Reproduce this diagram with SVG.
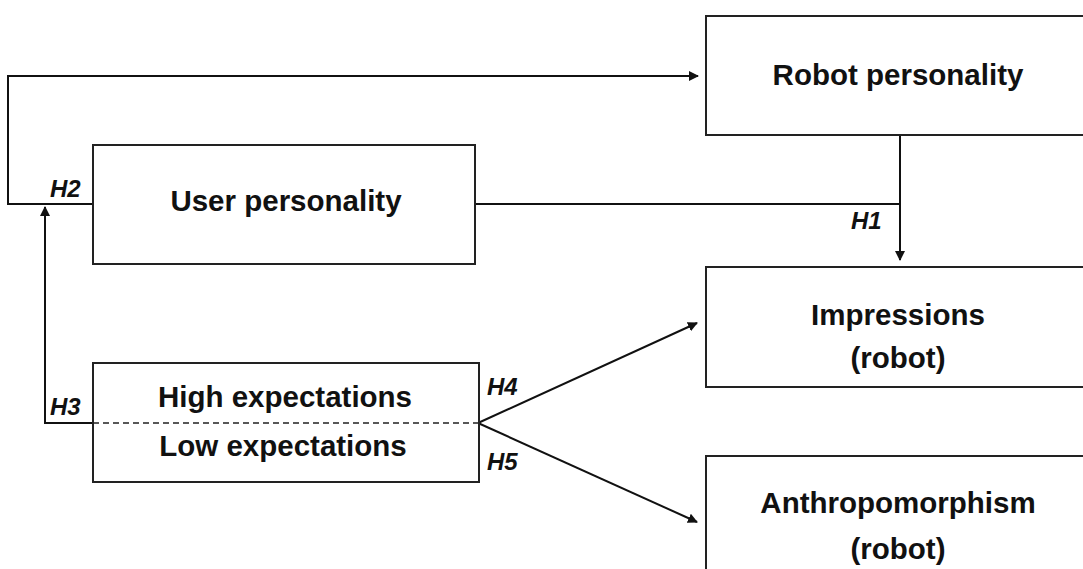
<svg xmlns="http://www.w3.org/2000/svg" width="1083" height="569" viewBox="0 0 1083 569">
<defs>
<marker id="arr" viewBox="0 0 10 10" refX="9" refY="5" markerWidth="5" markerHeight="5" orient="auto" markerUnits="strokeWidth">
<path d="M0,0 L10,5 L0,10 z" fill="#111"/>
</marker>
<style>
.box{fill:#fff;stroke:#222;stroke-width:2}
.t{font-family:"Liberation Sans",Arial,sans-serif;font-weight:bold;font-size:29.5px;fill:#111;text-anchor:middle}
.h{font-family:"Liberation Sans",Arial,sans-serif;font-weight:bold;font-style:italic;font-size:24px;fill:#111}
.c{fill:none;stroke:#111;stroke-width:2}
</style>
</defs>
<rect width="1083" height="569" fill="#fff"/>
<g id="connectors">
<path class="c" d="M93,204 H8 V76 H698" marker-end="url(#arr)"/>
<path class="c" d="M475,204 H900"/>
<path class="c" d="M900,135 V260" marker-end="url(#arr)"/>
<path class="c" d="M93,423 H45 V207" marker-end="url(#arr)"/>
<path class="c" d="M478,423 L697,323" marker-end="url(#arr)"/>
<path class="c" d="M478,423 L697,522" marker-end="url(#arr)"/>
<text class="h" x="50" y="197">H2</text>
<text class="h" x="851" y="229">H1</text>
<text class="h" x="50" y="415">H3</text>
<text class="h" x="487" y="395">H4</text>
<text class="h" x="487" y="470">H5</text>
</g>
<g id="robot-personality">
<rect class="box" x="706" y="16" width="400" height="119"/>
<text class="t" x="898" y="85">Robot personality</text>
</g>
<g id="user-personality">
<rect class="box" x="93" y="145" width="382" height="119"/>
<text class="t" x="286" y="211">User personality</text>
</g>
<g id="expectations">
<rect class="box" x="93" y="363" width="386" height="119"/>
<line x1="93" y1="423" x2="479" y2="423" stroke="#222" stroke-width="1.5" stroke-dasharray="6,4"/>
<text class="t" x="285" y="407">High expectations</text>
<text class="t" x="283" y="456">Low expectations</text>
</g>
<g id="impressions">
<rect class="box" x="706" y="267" width="400" height="120"/>
<text class="t" x="898" y="325">Impressions</text>
<text class="t" x="898" y="368">(robot)</text>
</g>
<g id="anthropomorphism">
<rect class="box" x="706" y="456" width="400" height="130"/>
<text class="t" x="898" y="513">Anthropomorphism</text>
<text class="t" x="898" y="559">(robot)</text>
</g>
</svg>
